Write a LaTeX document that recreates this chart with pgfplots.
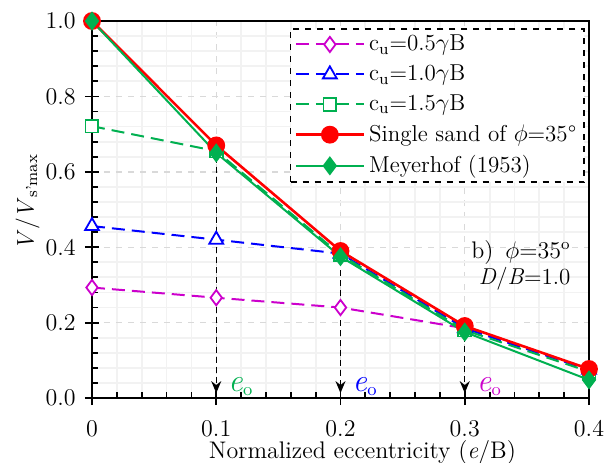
\documentclass[border=0pt]{standalone}
\usepackage{pgfplots}
\pgfplotsset{compat=1.18}
\usetikzlibrary{arrows.meta}
\definecolor{cmag}{RGB}{204,0,204}
\definecolor{cblue}{RGB}{0,0,255}
\definecolor{cgreen}{RGB}{0,176,80}
\definecolor{cred}{RGB}{255,0,0}

\begin{document}
\begin{tikzpicture}
\fontsize{12}{14}\selectfont
\useasboundingbox (-46pt,-32pt) rectangle (256.5pt,199pt);
\begin{axis}[
  scale only axis, width=248.5pt, height=188.5pt,
  at={(0,0)}, anchor=south west,
  xmin=0, xmax=0.4, ymin=0, ymax=1.0,
  xtick={0,0.1,0.2,0.3,0.4}, xticklabels={0,0.1,0.2,0.3,0.4},
  ytick={0,0.2,0.4,0.6,0.8,1.0}, yticklabels={0.0,0.2,0.4,0.6,0.8,1.0},
  minor tick num=4,
  tick pos=left, tick align=inside,
  major tick length=3.5pt, minor tick length=3pt,
  every tick/.style={black, line width=0.9pt},
  extra x ticks={0,0.1,0.2,0.3,0.4}, extra x tick labels={},
  extra y ticks={0,0.2,0.4,0.6,0.8,1.0}, extra y tick labels={},
  extra tick style={tick align=outside, grid=none},
  grid=both,
  minor grid style={gray!10, line width=0.9pt},
  major grid style={gray!30, dashed, line width=0.7pt},
  axis line style={black, line width=1pt},
  tick label style={font=\fontsize{12}{14}\selectfont},
  xticklabel style={yshift=-7pt},
  yticklabel style={xshift=-4pt},
  xlabel={Normalized eccentricity (\textit{e}/B)},
  xlabel style={at={(axis description cs:0.5,0)}, anchor=north, yshift=-17pt, xshift=11pt, font=\fontsize{12}{14}\selectfont},
  ylabel={\textit{V}/\textit{V}\textsubscript{s'max}},
  ylabel style={at={(axis description cs:0,0.52)}, anchor=south, yshift=22pt, font=\fontsize{12}{14}\selectfont},
  legend style={at={(1,1)}, anchor=north east, xshift=-2pt, yshift=-3.5pt,
    draw=black, dashed, line width=0.8pt, fill=white,
    font=\fontsize{11.5}{13.5}\selectfont, row sep=1.3pt, inner xsep=2pt, inner ysep=1pt,
    legend cell align=left},
  legend image code/.code={\draw[mark repeat=2, mark phase=2, #1] plot coordinates {(0pt,0pt)(17pt,0pt)(34pt,0pt)};},
  clip=false,
]
\addplot[cmag, line width=1pt, dash pattern=on 6.5pt off 3.5pt, mark=diamond*, mark size=3.8pt,
  mark options={solid, fill=white, line width=0.9pt}]
  coordinates {(0,0.293)(0.1,0.266)(0.2,0.240)(0.3,0.185)(0.4,0.075)};
\addlegendentry{c\textsubscript{u}=0.5$\gamma$B}
\addplot[cblue, line width=1pt, dash pattern=on 6.5pt off 3.5pt, mark=triangle*, mark size=4pt,
  mark options={solid, fill=white, line width=0.9pt}]
  coordinates {(0,0.456)(0.1,0.420)(0.2,0.383)(0.3,0.185)(0.4,0.075)};
\addlegendentry{c\textsubscript{u}=1.0$\gamma$B}
\addplot[cgreen, line width=1pt, dash pattern=on 6.5pt off 3.5pt, mark=square*, mark size=3.2pt,
  mark options={solid, fill=white, line width=0.9pt}]
  coordinates {(0,0.721)(0.1,0.655)(0.2,0.380)(0.3,0.180)(0.4,0.070)};
\addlegendentry{c\textsubscript{u}=1.5$\gamma$B}
\addplot[cred, line width=1.3pt, mark=*, mark size=3.8pt, mark options={solid}]
  coordinates {(0,1.0)(0.1,0.670)(0.2,0.390)(0.3,0.191)(0.4,0.077)};
\addlegendentry{Single sand of $\phi$=35\textdegree}
\addplot[cgreen, line width=1pt, mark=diamond*, mark size=4pt, mark options={solid}]
  coordinates {(0,1.0)(0.1,0.650)(0.2,0.375)(0.3,0.175)(0.4,0.048)};
\addlegendentry{Meyerhof (1953)}

\draw[black, densely dashed, line width=0.6pt, -{Stealth[length=6pt,width=5pt,inset=2pt]}] (axis cs:0.1,0.64) -- (axis cs:0.1,0.013);
\draw[black, densely dashed, line width=0.6pt, -{Stealth[length=6pt,width=5pt,inset=2pt]}] (axis cs:0.2,0.365) -- (axis cs:0.2,0.013);
\draw[black, densely dashed, line width=0.6pt, -{Stealth[length=6pt,width=5pt,inset=2pt]}] (axis cs:0.3,0.165) -- (axis cs:0.3,0.013);
\node[anchor=base west, inner sep=0pt, text=cgreen, font=\fontsize{16}{18}\selectfont] at (axis cs:0.1095,0.016) {\textit{e}\raisebox{-2pt}{\fontsize{9}{10}\selectfont o}};
\node[anchor=base west, inner sep=0pt, text=cblue, font=\fontsize{16}{18}\selectfont] at (axis cs:0.2095,0.016) {\textit{e}\raisebox{-2pt}{\fontsize{9}{10}\selectfont o}};
\node[anchor=base west, inner sep=0pt, text=cmag, font=\fontsize{16}{18}\selectfont] at (axis cs:0.3095,0.016) {\textit{e}\raisebox{-2pt}{\fontsize{9}{10}\selectfont o}};
\node[anchor=base west, inner sep=0pt, font=\fontsize{12}{14}\selectfont] at (axis cs:0.305,0.371) {b)\,\ $\phi$=35\textsuperscript{o}};
\node[anchor=base west, inner sep=0pt, font=\fontsize{11.5}{14}\selectfont] at (axis cs:0.311,0.300) {\textit{D}/\textit{B}=1.0};
\end{axis}
\end{tikzpicture}
\end{document}
